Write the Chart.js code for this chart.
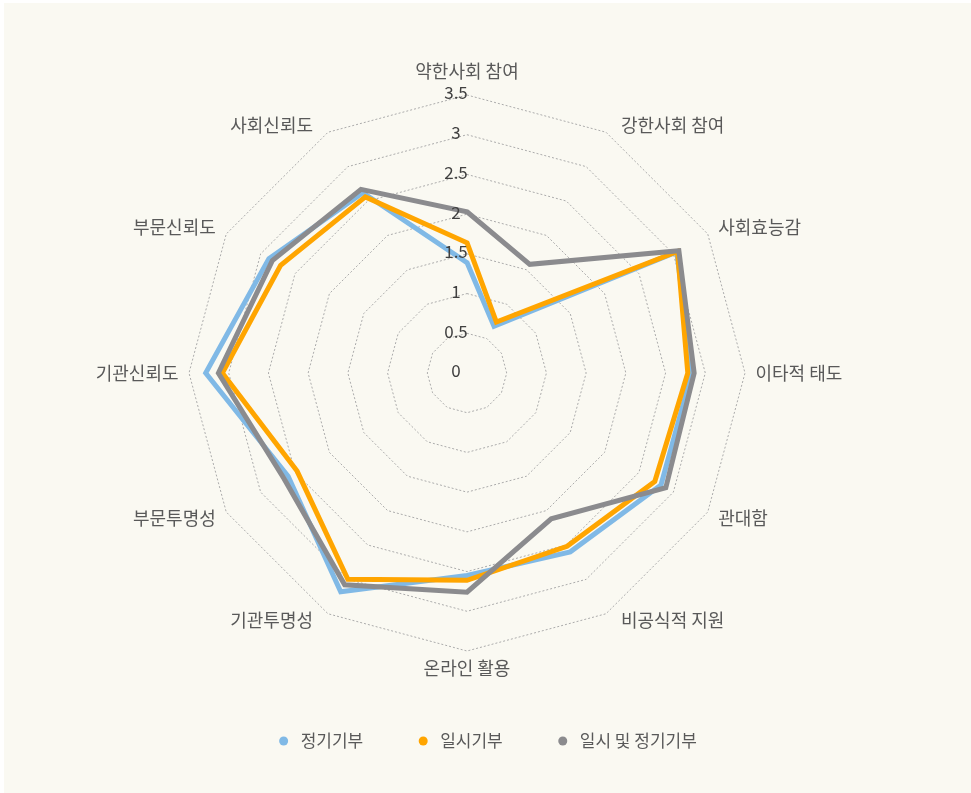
<!DOCTYPE html>
<html><head><meta charset="utf-8">
<script src="https://cdn.jsdelivr.net/npm/chart.js@4"></script>
<style>
html,body{margin:0;padding:0;background:#fff;}
#wrap{position:absolute;left:0;top:0;width:971px;height:793px;overflow:hidden;}
#bg{position:absolute;left:4px;top:3px;right:0;bottom:0;background:#FAF9F2;}
canvas{position:absolute;left:0;top:0;}
</style></head><body>
<div id="wrap"><div id="bg"></div><canvas id="c" width="971" height="793" style="width:971px;height:793px"></canvas></div>
<script>
const categories = ['약한사회 참여','강한사회 참여','사회효능감','이타적 태도','관대함','비공식적 지원','온라인 활용','기관투명성','부문투명성','기관신뢰도','부문신뢰도','사회신뢰도'];
const seriesNames = ['정기기부','일시기부','일시 및 정기기부'];
const regularGiving = [1.39, 0.68, 3.05, 2.83, 2.82, 2.60, 2.55, 3.18, 2.60, 3.29, 2.88, 2.62];
const oneTimeGiving = [1.64, 0.74, 3.06, 2.78, 2.73, 2.52, 2.61, 3.00, 2.47, 3.08, 2.71, 2.56];
const bothGiving    = [2.03, 1.58, 3.08, 2.86, 2.89, 2.12, 2.76, 3.08, 2.66, 3.13, 2.83, 2.67];
const tickLabels = ['0','0.5','1','1.5','2','2.5','3','3.5'];
const seriesColors = ['#80B9E6','#FFA500','#8B8B8E'];

const FONT = '"Noto Sans CJK KR","Noto Sans",sans-serif';

const excelDecor = {
  id: 'excelDecor',
  afterDatasetsDraw(chart) {
    const s = chart.scales.r, ctx = chart.ctx;
    ctx.save();
    ctx.font = '17px ' + FONT;
    ctx.fillStyle = '#404040';
    ctx.textAlign = 'center';
    ctx.textBaseline = 'middle';
    tickLabels.forEach(t => {
      const d = s.getDistanceFromCenterForValue(parseFloat(t));
      ctx.fillText(t, s.xCenter - 11, s.yCenter - d - 2);
    });
    ctx.restore();
  },
  afterDraw(chart) {
    const s = chart.scales.r, ctx = chart.ctx;
    ctx.save();
    ctx.font = '18px ' + FONT;
    ctx.fillStyle = '#595959';
    ctx.textBaseline = 'middle';
    const n = categories.length;
    categories.forEach((lab, i) => {
      const p = s.getPointPosition(i, s.drawingArea);
      const ang = i * 2 * Math.PI / n;
      const sn = Math.sin(ang), cs = Math.cos(ang);
      let x = p.x, y = p.y;
      if (Math.abs(sn) < 0.01) {
        ctx.textAlign = 'center';
        y += cs > 0 ? -24 : 17;
      } else {
        ctx.textAlign = sn > 0 ? 'left' : 'right';
        const dx = Math.abs(sn) < 0.6 ? 15 : 10.5;
        x += (sn > 0 ? 1 : -1) * dx;
        if (cs > 0.1) y -= 7; else if (cs < -0.1) y += 6;
      }
      ctx.fillText(lab, x, y);
    });
    // legend
    ctx.font = '17px ' + FONT;
    const dsets = chart.data.datasets;
    const widths = dsets.map(d => ctx.measureText(d.label).width);
    const gapDot = 17, gapItem = 60, rDot = 4.5;
    let total = 0;
    widths.forEach((w, i) => { total += gapDot + w + (i < widths.length - 1 ? gapItem : 0); });
    total += rDot;
    let x = 488 - total / 2 + rDot;
    const ly = 741;
    ctx.textAlign = 'left';
    dsets.forEach((d, i) => {
      ctx.beginPath();
      ctx.fillStyle = d.borderColor;
      ctx.arc(x, ly, rDot, 0, Math.PI * 2);
      ctx.fill();
      ctx.fillStyle = '#595959';
      ctx.fillText(d.label, x + gapDot, ly);
      x += gapDot + widths[i] + gapItem;
    });
    ctx.restore();
  }
};

new Chart(document.getElementById('c'), {
  type: 'radar',
  data: {
    labels: categories,
    datasets: [
      { label: seriesNames[0], data: regularGiving, borderColor: seriesColors[0], backgroundColor: seriesColors[0], order: 3 },
      { label: seriesNames[1], data: oneTimeGiving, borderColor: seriesColors[1], backgroundColor: seriesColors[1], order: 2 },
      { label: seriesNames[2], data: bothGiving, borderColor: seriesColors[2], backgroundColor: seriesColors[2], order: 1 }
    ]
  },
  options: {
    responsive: false,
    animation: false,
    devicePixelRatio: 1,
    layout: { padding: { top: 95, bottom: 142, left: 0, right: 37 } },
    elements: {
      line: { borderWidth: 5, tension: 0, fill: false, borderJoinStyle: 'miter' },
      point: { radius: 0, hoverRadius: 0 }
    },
    plugins: { legend: { display: false }, tooltip: { enabled: false } },
    scales: {
      r: {
        min: 0, max: 3.5,
        ticks: { display: false, stepSize: 0.5 },
        grid: { color: '#ABABAB', lineWidth: 1, circular: false },
        border: { dash: [2, 2] },
        angleLines: { display: false },
        pointLabels: { display: false }
      }
    }
  },
  plugins: [excelDecor]
});
</script>
</body></html>
